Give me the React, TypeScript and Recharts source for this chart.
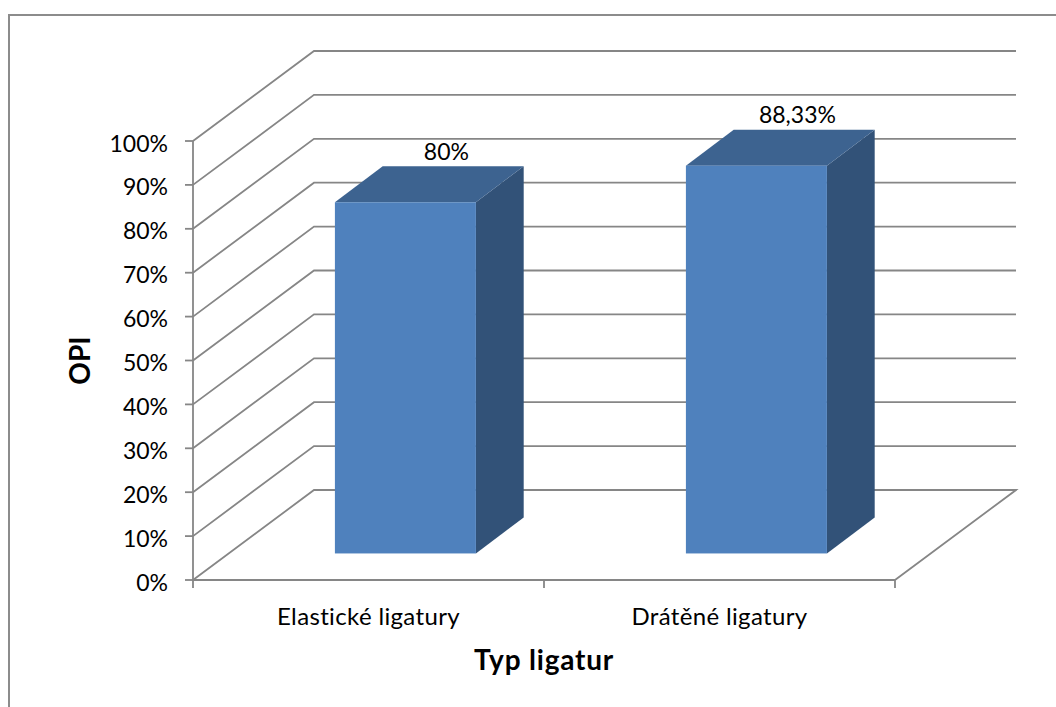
import React from "react";
import { BarChart, Bar, CartesianGrid, XAxis, YAxis, LabelList, Label } from "recharts";

const categories = ["Elastické ligatury", "Drátěné ligatury"];
const opiValues = [80, 88.33];
const percentTicks = [0, 10, 20, 30, 40, 50, 60, 70, 80, 90, 100];

const rows = categories.map((typ, i) => ({ typ, opi: opiValues[i] }));

const WIDTH = 1056;
const HEIGHT = 707;
const PLOT = { left: 193, right: 895, top: 141, bottom: 580 };
const DEPTH = { x: 121, y: 90 };
// Bars sit 30% of the way into the floor and occupy 40% of its depth.
const BAR_INSET = { x: DEPTH.x * 0.305, y: DEPTH.y * 0.295 };
const BAR_DEPTH = { x: DEPTH.x * 0.395, y: DEPTH.y * 0.4 };
const BAR_WIDTH = 141;

const FONT = "Lato, sans-serif";
const TICK_SIZE = 23;
const CATEGORY_SIZE = 24;
const TITLE_SIZE = 28;
const LINE = "#868686";
const STROKE = 1.8;
const FRONT = "#4F81BD";
const TOP = "#3D6390";
const SIDE = "#325278";

const pts = (list: number[][]) => list.map((p) => p.join(",")).join(" ");

// One wall-and-side gridline: runs up the side wall, then across the back wall.
function WallLine(props: any) {
  const { x1, x2, y1 } = props;
  const isFloor = Math.abs(y1 - PLOT.bottom) < 0.5;
  return (
    <g>
      <polyline
        points={pts([
          [x1, y1],
          [x1 + DEPTH.x, y1 - DEPTH.y],
          [x2 + DEPTH.x, y1 - DEPTH.y],
          ...(isFloor ? [[x2, y1]] : []),
        ])}
        fill="none"
        stroke={LINE}
        strokeWidth={STROKE}
      />
    </g>
  );
}

// Extruded bar: front face, top face and right side face.
function Box3D(props: any) {
  const { x, y, width, height } = props;
  const l = x + BAR_INSET.x;
  const r = l + width;
  const t = y - BAR_INSET.y;
  const b = t + height;
  const dx = BAR_DEPTH.x;
  const dy = BAR_DEPTH.y;
  return (
    <g>
      <polygon points={pts([[r, t], [r + dx, t - dy], [r + dx, b - dy], [r, b]])} fill={SIDE} />
      <polygon points={pts([[l, t], [l + dx, t - dy], [r + dx, t - dy], [r, t]])} fill={TOP} />
      <rect x={l} y={t} width={width} height={height} fill={FRONT} />
    </g>
  );
}

// Value label floating above the bar's top face.
function ValueLabel(props: any) {
  const { x, y, width, value } = props;
  return (
    <text
      x={x + width / 2 + BAR_INSET.x + 41}
      y={y - BAR_INSET.y - 51.5}
      textAnchor="middle"
      dominantBaseline="central"
      fontFamily={FONT}
      fontSize={TICK_SIZE}
      fill="#000"
    >
      {`${String(value).replace(".", ",")}%`}
    </text>
  );
}

// Category label with tick marks on the band edges rather than the band centre.
function CategoryTick(props: any) {
  const { x, payload, index } = props;
  const half = (PLOT.right - PLOT.left) / categories.length / 2;
  const edges = index === categories.length - 1 ? [x - half, x + half] : [x - half];
  return (
    <g>
      {edges.map((ex) => (
        <line key={ex} x1={ex} x2={ex} y1={PLOT.bottom} y2={PLOT.bottom + 8} stroke={LINE} strokeWidth={STROKE} />
      ))}
      <text
        x={x}
        y={PLOT.bottom + 35}
        textAnchor="middle"
        dominantBaseline="central"
        fontFamily={FONT}
        fontSize={CATEGORY_SIZE}
        letterSpacing={0.35}
        fill="#000"
      >
        {payload.value}
      </text>
    </g>
  );
}

// Percentage tick on the value axis, nudged to sit level with its tick mark.
function PercentTick(props: any) {
  const { x, y, payload } = props;
  return (
    <text x={x} y={y + 1.5} textAnchor="end" dominantBaseline="central" fontFamily={FONT} fontSize={TICK_SIZE} fill="#000">
      {`${payload.value}%`}
    </text>
  );
}

export default function App() {
  return (
    <div style={{ position: "absolute", left: 0, top: 0, width: WIDTH, height: HEIGHT, background: "#fff" }}>
      <div
        style={{
          position: "absolute",
          left: 8,
          top: 14,
          width: WIDTH - 8,
          height: HEIGHT - 14,
          borderLeft: "2px solid #8c8c8c",
          borderTop: "2px solid #8c8c8c",
          boxSizing: "border-box",
        }}
      />
      <div style={{ position: "absolute", left: 0, top: 0 }}>
        <BarChart
          width={WIDTH}
          height={HEIGHT}
          data={rows}
          barSize={BAR_WIDTH}
          margin={{ left: 0, top: PLOT.top, right: WIDTH - PLOT.right, bottom: 0 }}
        >
          <CartesianGrid horizontal={WallLine} vertical={false} />
          <XAxis
            dataKey="typ"
            height={HEIGHT - PLOT.bottom}
            tick={CategoryTick}
            tickLine={false}
            axisLine={{ stroke: LINE, strokeWidth: STROKE }}
            interval={0}
          >
            <Label
              value="Typ ligatur"
              position="insideTop"
              offset={70}
              style={{ fontFamily: FONT, fontSize: TITLE_SIZE, fontWeight: 700, fill: "#000", letterSpacing: 0.8 }}
            />
          </XAxis>
          <YAxis
            type="number"
            domain={[0, 100]}
            ticks={percentTicks}
            width={PLOT.left}
            tickSize={8}
            tickMargin={17}
            tickLine={{ stroke: LINE, strokeWidth: STROKE }}
            axisLine={{ stroke: LINE, strokeWidth: STROKE }}
            tick={PercentTick}
            interval={0}
          >
            <Label
              value="OPI"
              angle={-90}
              position="insideLeft"
              offset={80}
              style={{ fontFamily: FONT, fontSize: TITLE_SIZE, fontWeight: 700, fill: "#000", textAnchor: "middle" }}
            />
          </YAxis>
          <Bar dataKey="opi" shape={Box3D} isAnimationActive={false}>
            <LabelList dataKey="opi" content={ValueLabel} />
          </Bar>
        </BarChart>
      </div>
    </div>
  );
}
